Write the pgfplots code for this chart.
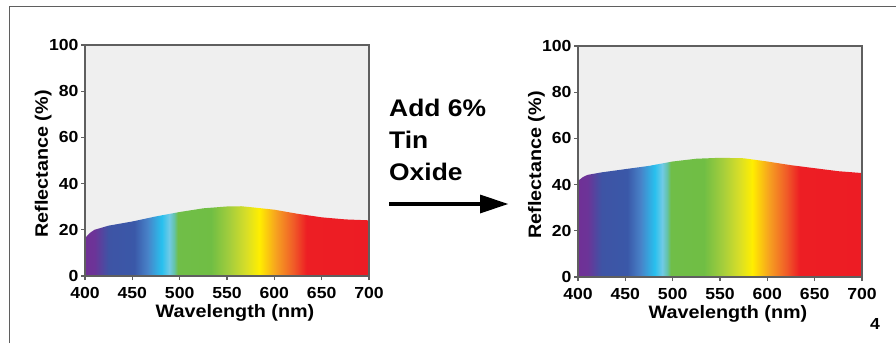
\documentclass[border=0pt]{standalone}
\usepackage{fontspec}
\setmainfont{Liberation Sans}[FakeStretch=1.1]
\usepackage{pgfplots}
\pgfplotsset{compat=1.18}
\definecolor{bggray}{RGB}{239,239,239}
\definecolor{axgray}{RGB}{95,95,95}
\definecolor{s400}{RGB}{112,48,150}
\definecolor{s410}{RGB}{108,52,152}
\definecolor{s425}{RGB}{62,84,165}
\definecolor{s452}{RGB}{58,88,168}
\definecolor{s466}{RGB}{72,130,200}
\definecolor{s481}{RGB}{40,192,238}
\definecolor{s489}{RGB}{112,202,230}
\definecolor{s494}{RGB}{100,195,170}
\definecolor{s498}{RGB}{112,190,72}
\definecolor{s533}{RGB}{112,190,68}
\definecolor{s553}{RGB}{165,206,60}
\definecolor{s570}{RGB}{215,222,40}
\definecolor{s584}{RGB}{255,238,0}
\definecolor{s602}{RGB}{246,160,32}
\definecolor{s620}{RGB}{240,92,40}
\definecolor{s634}{RGB}{237,30,36}
\definecolor{s700}{RGB}{237,28,36}
% bp = 25 + (lambda-400)/6
\pgfdeclarehorizontalshading{spectrum}{100bp}{%
color(0bp)=(s400); color(25bp)=(s400); color(26.667bp)=(s410);
color(29.167bp)=(s425); color(33.667bp)=(s452); color(36bp)=(s466);
color(38.5bp)=(s481); color(39.833bp)=(s489); color(40.667bp)=(s494);
color(41.333bp)=(s498); color(47.167bp)=(s533); color(50.5bp)=(s553);
color(53.333bp)=(s570); color(55.667bp)=(s584); color(58.667bp)=(s602);
color(61.667bp)=(s620); color(64bp)=(s634); color(75bp)=(s700); color(100bp)=(s700)}
\pgfplotsset{
  spec/.style={
    scale only axis, width=284pt, height=231pt,
    xmin=400, xmax=700, ymin=0, ymax=100,
    xtick={400,450,...,700}, ytick={0,20,...,100},
    axis background/.style={fill=bggray},
    axis line style={draw=axgray, line width=1.3pt},
    tick align=outside, xtick pos=bottom, ytick pos=left,
    major tick length=4pt,
    every tick/.style={draw=axgray, line width=1.3pt},
    /pgf/number format/assume math mode=true,
    tick label style={font=\bfseries\fontsize{16}{16}\selectfont, text=black},
    xticklabel style={yshift=-4pt},
    yticklabel style={xshift=1pt},
    label style={font=\bfseries\fontsize{18}{18}\selectfont, text=black},
    xlabel={Wavelength (nm)},
    ylabel={Reflectance (\%)},
    xlabel style={at={(axis description cs:0.528,-0.1818)}, anchor=base, inner sep=0pt},
    ylabel style={at={(axis description cs:-0.1303,0.485)}, anchor=base, inner sep=0pt},
    axis on top,
  }
}
\begin{document}
\begin{tikzpicture}[x=1pt,y=1pt]
\useasboundingbox (0,0) rectangle (896,343);
\fill[white] (0,0) rectangle (896,343);
\draw[axgray, line width=1pt] (9,0) -- (9,336) -- (896,336);
\begin{axis}[spec, at={(85pt,67pt)}, anchor=south west]
\addplot[draw=none, shading=spectrum] coordinates {
(400,0) (400,16.4) (405,18.6) (410,20.0) (425,21.8) (450,23.6) (475,25.8) (500,27.7)
(525,29.3) (550,30.1) (565,30.2) (575,29.8) (600,28.7) (625,26.9) (650,25.4)
(675,24.5) (700,24.1) (700,0)} -- cycle;
\end{axis}
\begin{axis}[spec, at={(578pt,66pt)}, anchor=south west]
\addplot[draw=none, shading=spectrum] coordinates {
(400,0) (400,41.6) (405,43.2) (410,44.2) (425,45.3) (450,46.7) (475,48.1) (500,50.0)
(525,51.2) (550,51.6) (575,51.4) (600,50.0) (625,48.4) (650,47.1) (675,45.8)
(700,45.0) (700,0)} -- cycle;
\end{axis}
\node[anchor=base west, inner sep=0, font=\bfseries\fontsize{24}{24}\selectfont] at (389,226) {Add 6\%};
\node[anchor=base west, inner sep=0, font=\bfseries\fontsize{24}{24}\selectfont] at (389,194) {Tin};
\node[anchor=base west, inner sep=0, font=\bfseries\fontsize{24}{24}\selectfont] at (389,162) {Oxide};
\draw[line width=4pt] (389,139) -- (482,139);
\fill (480,148.5) -- (508,139) -- (480,129.5) -- cycle;
\node[font=\bfseries\fontsize{16}{16}\selectfont] at (875,19) {4};
\end{tikzpicture}
\end{document}
